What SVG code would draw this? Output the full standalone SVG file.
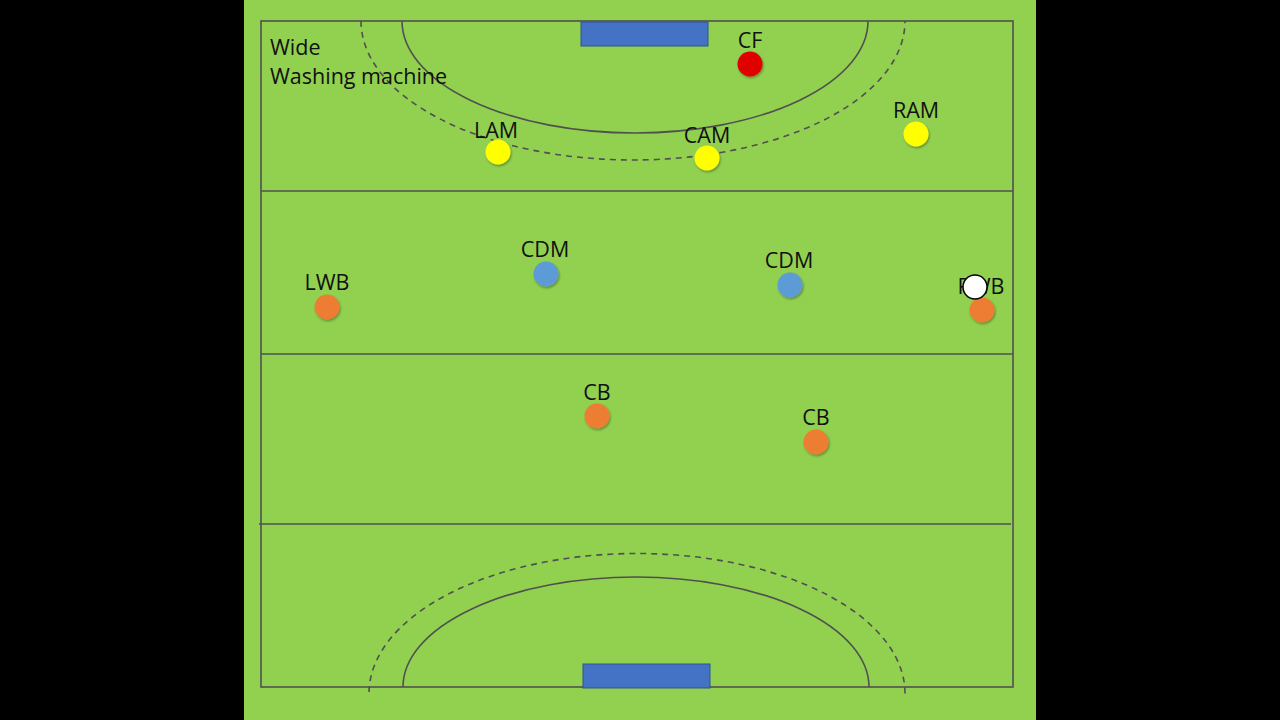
<svg xmlns="http://www.w3.org/2000/svg" width="1280" height="720" viewBox="0 0 1280 720">
<defs>
<style>
.line{fill:none;stroke:#505050;stroke-width:1.6}
.dash{fill:none;stroke:#505050;stroke-width:1.6;stroke-dasharray:6 5}
.goal{fill:#4472C4;stroke:#2F528F;stroke-width:1}
.lbl{font-family:"Open Sans","Liberation Sans",sans-serif;font-size:21.5px;fill:#111;text-anchor:middle}
.title{font-family:"Open Sans","Liberation Sans",sans-serif;font-size:21.5px;fill:#111}
.p{stroke:none;filter:url(#sh)}
.y{fill:#FFFF00}
.o{fill:#ED7D31}
.b{fill:#5B9BD5}
.r{fill:#E00000}
</style>
<filter id="sh" x="-50%" y="-50%" width="200%" height="200%">
<feDropShadow dx="1" dy="1.5" stdDeviation="1.2" flood-color="#000" flood-opacity="0.35"/>
</filter>
</defs>
<rect x="0" y="0" width="1280" height="720" fill="#000"/>
<rect x="244" y="0" width="792" height="720" fill="#92D050"/>
<g id="pitch">
<rect class="line" x="261" y="21" width="752" height="666"/>
<line class="line" x1="261" y1="191" x2="1013" y2="191"/>
<line class="line" x1="261" y1="354" x2="1013" y2="354"/>
<line class="line" x1="259" y1="524" x2="1011" y2="524"/>
<path class="line" d="M402 21 A233 112 0 0 0 868 21"/>
<path class="dash" d="M361 21 A272 139 0 0 0 905 21"/>
<path class="line" d="M403 687 A233 110 0 0 1 869 687"/>
<path class="dash" d="M369 692 A268 140 0 0 1 905 695"/>
<rect class="goal" x="581" y="22" width="127" height="24"/>
<rect class="goal" x="583" y="664" width="127" height="24"/>
</g>
<g id="title">
<text class="title" x="270" y="55">Wide</text>
<text class="title" x="270" y="84">Washing machine</text>
</g>
<g id="connectors"></g>
<g id="cf"><text class="lbl" x="750" y="48">CF</text><circle class="p r" cx="750" cy="64" r="12.5"/></g>
<g id="lam"><text class="lbl" x="496" y="138">LAM</text><circle class="p y" cx="498" cy="152" r="12.5"/></g>
<g id="cam"><text class="lbl" x="707" y="143">CAM</text><circle class="p y" cx="707" cy="158" r="12.5"/></g>
<g id="ram"><text class="lbl" x="916" y="118">RAM</text><circle class="p y" cx="916" cy="134" r="12.5"/></g>
<g id="cdm1"><text class="lbl" x="545" y="257">CDM</text><circle class="p b" cx="546" cy="274" r="12.5"/></g>
<g id="cdm2"><text class="lbl" x="789" y="268">CDM</text><circle class="p b" cx="790" cy="285" r="12.5"/></g>
<g id="lwb"><text class="lbl" x="327" y="290">LWB</text><circle class="p o" cx="327" cy="307" r="12.5"/></g>
<g id="rwb"><text class="lbl" x="981" y="294">RWB</text><circle class="p o" cx="982" cy="310" r="12.5"/></g>
<g id="ball"><circle cx="975" cy="287" r="12" fill="#fff" stroke="#000" stroke-width="1.5"/></g>
<g id="cb1"><text class="lbl" x="597" y="400">CB</text><circle class="p o" cx="597" cy="416" r="12.5"/></g>
<g id="cb2"><text class="lbl" x="816" y="425">CB</text><circle class="p o" cx="816" cy="442" r="12.5"/></g>
</svg>
